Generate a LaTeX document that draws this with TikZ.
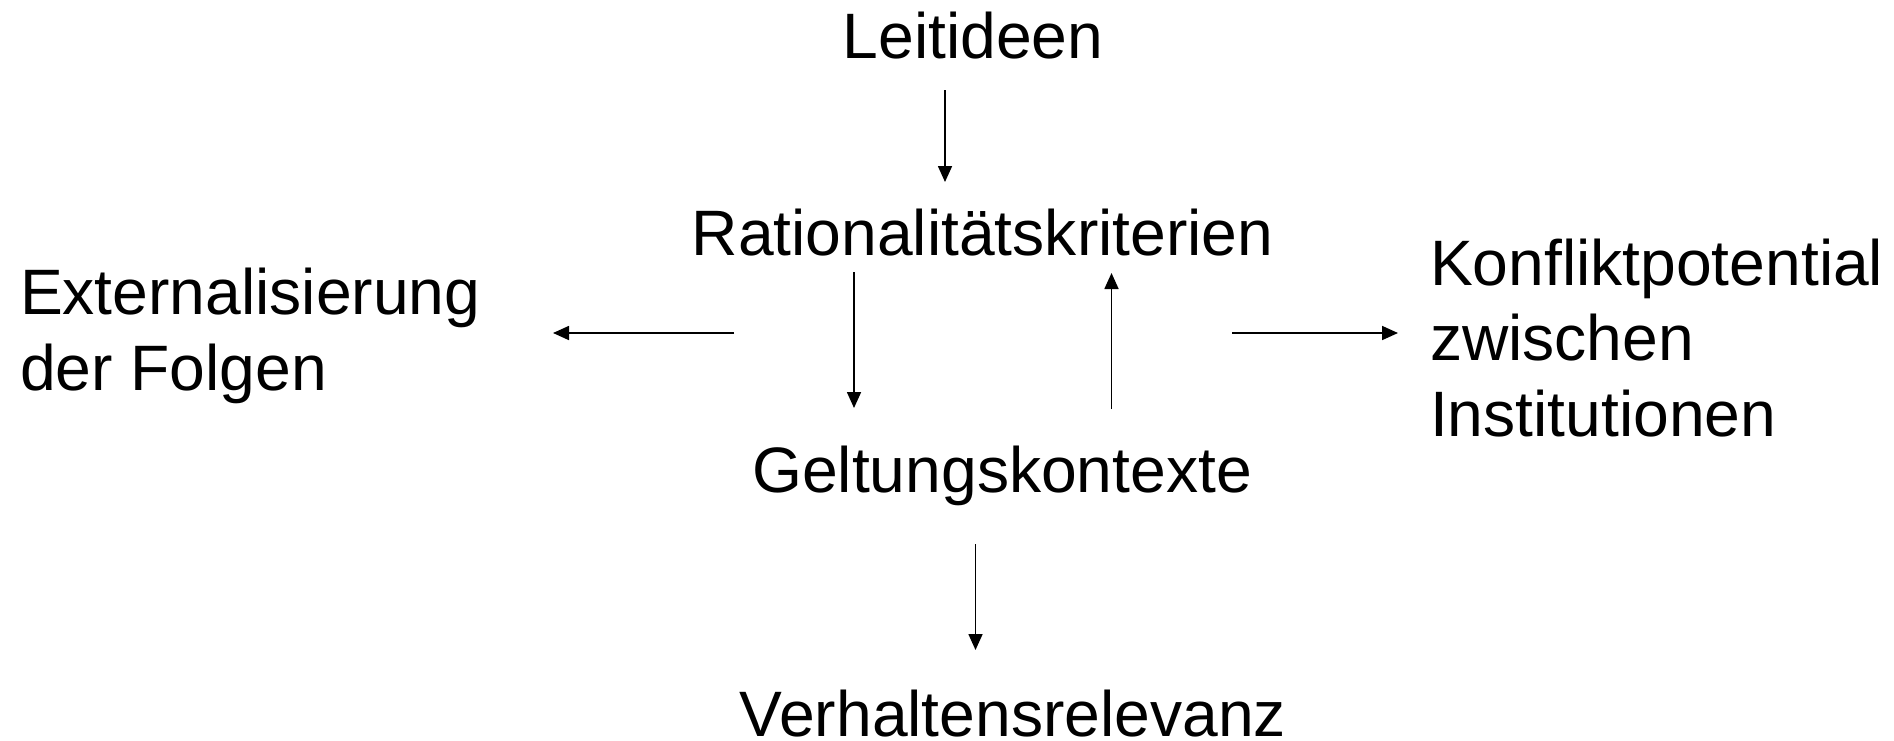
\documentclass[tikz,border=0pt]{standalone}
\usepackage{fontspec}
\setmainfont{Liberation Sans}
\usetikzlibrary{arrows.meta}
\begin{document}
\begin{tikzpicture}[x=1pt,y=-1pt,
  lbl/.style={inner sep=0pt,outer sep=0pt,font=\fontsize{64.2}{75.8}\selectfont},
  arr/.style={line width=1.7pt,-{Triangle[length=16pt,width=14pt]}}]
\useasboundingbox[fill=white] (0,0) rectangle (1894,740);
\node[lbl,anchor=base] (lei) at (973,58) {Leitideen};
\node[lbl,anchor=base] (rat) at (982.5,255) {Rationalitätskriterien};
\node[lbl,anchor=base] (gel) at (1002,492) {Geltungskontexte};
\node[lbl,anchor=base] (ver) at (1013,736) {Verhaltensrelevanz};
\node[lbl,anchor=base west] (ext) at (20,314) {\vtop{\baselineskip=76pt\hbox{Externalisierung}\hbox{der Folgen}}};
\node[lbl,anchor=base west] (kon) at (1430,285) {\vtop{\baselineskip=75.8pt\hbox{Konfliktpotential}\hbox{zwischen}\hbox{Institutionen}}};
\coordinate (a1s) at (945,90);    \coordinate (a1e) at (945,182);
\coordinate (a2s) at (854,272);   \coordinate (a2e) at (854,408);
\coordinate (a3s) at (1111.5,409);\coordinate (a3e) at (1111.5,273);
\coordinate (a4s) at (734,333);   \coordinate (a4e) at (553,333);
\coordinate (a5s) at (1232,333);  \coordinate (a5e) at (1398,333);
\coordinate (a6s) at (975.5,544); \coordinate (a6e) at (975.5,650);
\draw[arr] (a1s) -- (a1e);
\draw[arr] (a2s) -- (a2e);
\draw[arr] (a3s) -- (a3e);
\draw[arr] (a4s) -- (a4e);
\draw[arr] (a5s) -- (a5e);
\draw[arr] (a6s) -- (a6e);
\end{tikzpicture}
\end{document}
